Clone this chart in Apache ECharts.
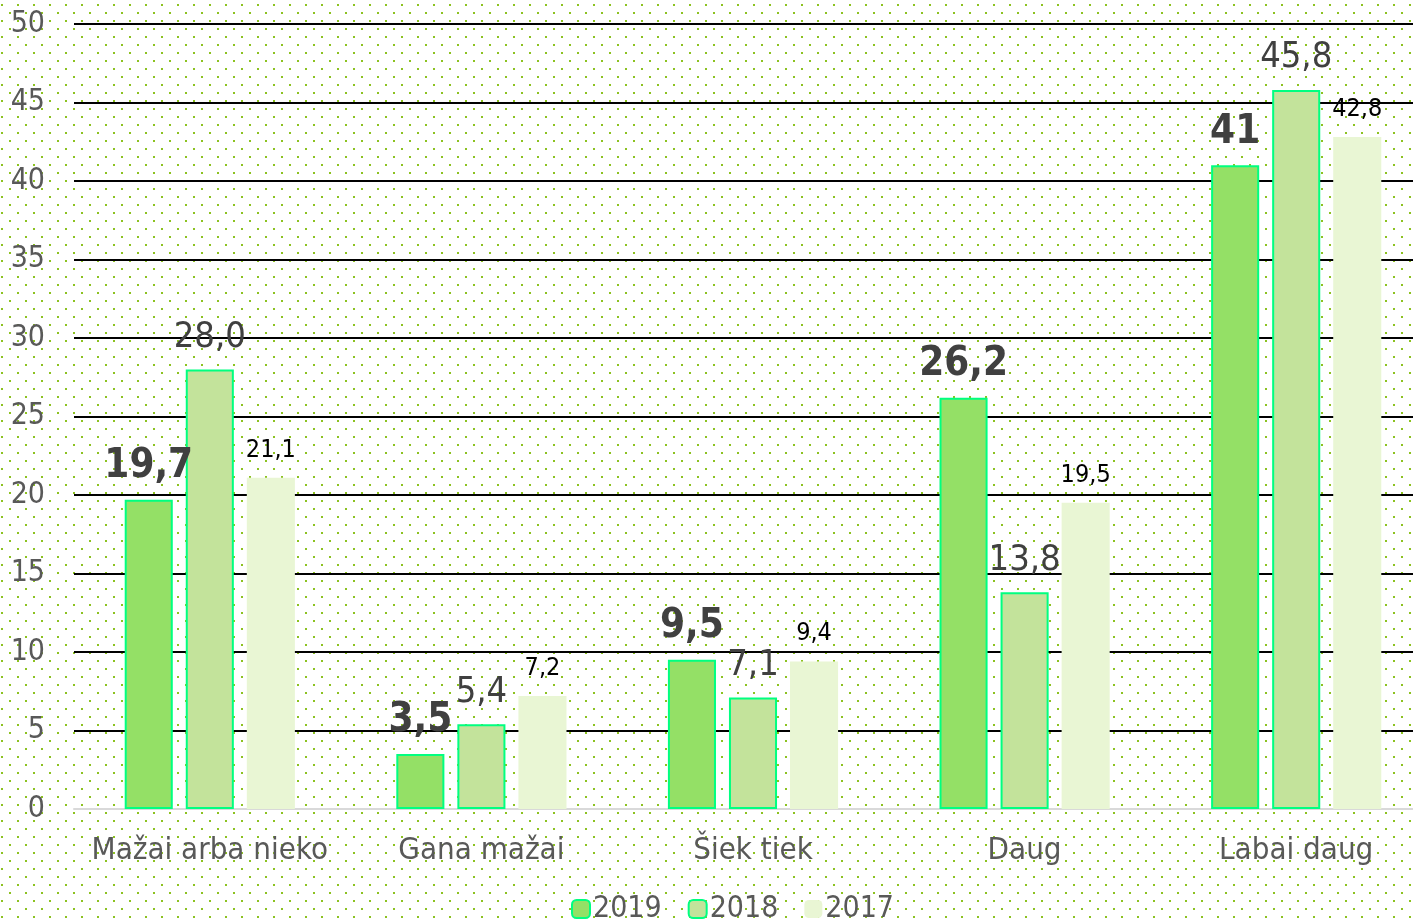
<!DOCTYPE html>
<html>
<head>
<meta charset="utf-8">
<script src="https://cdn.jsdelivr.net/npm/echarts@6/dist/echarts.min.js"></script>
<style>
  html, body { margin: 0; padding: 0; background: #fff; overflow: hidden; }
  #chart { width: 1432px; height: 923px; }
</style>
</head>
<body>
<div id="chart"></div>
<script>
const categories = ['Mažai arba nieko', 'Gana mažai', 'Šiek tiek', 'Daug', 'Labai daug'];
const years = ['2019', '2018', '2017'];
const values2019 = [19.7, 3.5, 9.5, 26.2, 41];
const values2018 = [28.0, 5.4, 7.1, 13.8, 45.8];
const values2017 = [21.1, 7.2, 9.4, 19.5, 42.8];
const yTicks = [0, 5, 10, 15, 20, 25, 30, 35, 40, 45, 50];

const font = '"DejaVu Sans Condensed", "DejaVu Sans", sans-serif';

// dotted background tile
const tile = document.createElement('canvas');
tile.width = 16;
tile.height = 16;
const ctx = tile.getContext('2d');
ctx.fillStyle = '#ffffff';
ctx.fillRect(0, 0, 16, 16);
ctx.fillStyle = '#8cc220';
ctx.fillRect(1, 4, 2, 2);
ctx.fillRect(9, 12, 2, 2);

const comma = v => String(v).replace('.', ',');

const chart = echarts.init(document.getElementById('chart'));

let option = {
  backgroundColor: { image: tile, repeat: 'repeat' },
  textStyle: { fontFamily: font },
  grid: { left: 74, right: 0, top: 24, bottom: 114 },
  legend: {
    data: years,
    bottom: -6,
    left: 566,
    itemWidth: 18,
    itemHeight: 18,
    itemGap: 26,
    textStyle: { fontFamily: font, fontSize: 30, color: '#595959', padding: [0, 0, 0, -2] }
  },
  xAxis: {
    type: 'category',
    data: categories,
    axisTick: { show: false },
    axisLine: { lineStyle: { color: '#d9d9d9', width: 2 } },
    axisLabel: { interval: 0, fontFamily: font, fontSize: 31, color: '#595959', margin: 26 }
  },
  yAxis: {
    type: 'value',
    min: yTicks[0],
    max: yTicks[yTicks.length - 1],
    interval: 5,
    axisLine: { show: false },
    axisTick: { show: false },
    axisLabel: { fontFamily: font, fontSize: 30, color: '#595959', margin: 29 },
    splitLine: {
      lineStyle: {
        color: yTicks.map((t, i) => i === 0 ? 'rgba(0,0,0,0)' : '#000000'),
        width: 2
      }
    }
  },
  series: [
    {
      name: years[0],
      type: 'bar',
      data: values2019,
      barWidth: '17.7%',
      barGap: '27%',
      itemStyle: { color: '#94e066', borderColor: '#00ff80', borderWidth: 2 },
      label: {
        show: true,
        position: 'top',
        distance: 13,
        fontFamily: font,
        fontSize: 40,
        fontWeight: 'bold',
        color: '#404040',
        formatter: p => comma(p.value)
      }
    },
    {
      name: years[1],
      type: 'bar',
      data: values2018,
      barWidth: '17.7%',
      barGap: '27%',
      itemStyle: { color: '#c3e39b', borderColor: '#00ff80', borderWidth: 2 },
      label: {
        show: true,
        position: 'top',
        distance: 14,
        fontFamily: font,
        fontSize: 36,
        color: '#404040',
        formatter: p => comma(p.value.toFixed(1))
      }
    },
    {
      name: years[2],
      type: 'bar',
      data: values2017,
      barWidth: '17.7%',
      barGap: '27%',
      itemStyle: { color: '#e9f6d4' },
      label: {
        show: true,
        position: 'top',
        distance: 15,
        fontFamily: font,
        fontSize: 25,
        color: '#000000',
        formatter: p => comma(p.value)
      }
    }
  ]
};

chart.setOption(option);
</script>
</body>
</html>
